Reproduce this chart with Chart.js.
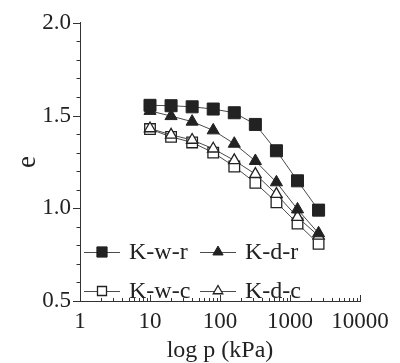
<!DOCTYPE html>
<html>
<head>
<meta charset="utf-8">
<script src="https://cdn.jsdelivr.net/npm/chart.js@4/dist/chart.umd.min.js"></script>
<style>
  html, body { margin: 0; padding: 0; background: #fff; }
  #wrap { width: 400px; height: 363px; }
  canvas { display: block; }
</style>
</head>
<body>
<div id="wrap"><canvas id="chart" width="400" height="363"></canvas></div>
<script>
// Consolidation test: void ratio e against log of vertical pressure p (kPa)
const pressures = [10, 20, 40, 80, 160, 320, 640, 1280, 2560];
const kwr = [1.555, 1.553, 1.547, 1.535, 1.515, 1.452, 1.310, 1.148, 0.990];
const kdr = [1.525, 1.497, 1.467, 1.420, 1.348, 1.255, 1.140, 0.994, 0.865];
const kwc = [1.427, 1.385, 1.355, 1.300, 1.225, 1.137, 1.032, 0.918, 0.808];
const kdc = [1.430, 1.396, 1.368, 1.321, 1.258, 1.184, 1.076, 0.952, 0.851];
const seriesNames = ['K-w-r', 'K-d-r', 'K-w-c', 'K-d-c'];
const xTickValues = [1, 10, 100, 1000, 10000];
const yTickValues = [0.5, 1.0, 1.5, 2.0];

const SERIF = "'Liberation Serif', 'DejaVu Serif', serif";
const INK = '#222222';
const LINE = '#4a4a4a';

function series(label, values, style, filled, radius, order) {
  return {
    label: label,
    data: pressures.map((p, i) => ({ x: p, y: values[i] })),
    borderColor: LINE,
    borderWidth: 1,
    pointStyle: style,
    pointRadius: radius,
    pointHoverRadius: radius,
    pointBackgroundColor: filled ? INK : '#ffffff',
    pointBorderColor: INK,
    pointBorderWidth: filled ? 1 : 1.3,
    tension: 0,
    fill: false,
    order: order
  };
}

// Tick marks: y ticks point outward, x ticks point into the plot
const tickMarks = {
  id: 'tickMarks',
  afterDraw(chart) {
    const ctx = chart.ctx;
    const xs = chart.scales.x, ys = chart.scales.y;
    const area = chart.chartArea;
    ctx.save();
    ctx.strokeStyle = '#333';
    ctx.lineWidth = 1;
    ctx.beginPath();
    for (let k = 0; k <= 15; k++) {
      const v = 0.5 + k * 0.1;
      const y = Math.round(ys.getPixelForValue(v)) + 0.5;
      const len = (k % 5 === 0) ? 7 : 3.5;
      ctx.moveTo(area.left - len, y);
      ctx.lineTo(area.left, y);
    }
    for (let d = 1; d <= 10000; d *= 10) {
      for (let m = 1; m <= 9; m++) {
        const v = m * d;
        if (v > 10000) break;
        const x = Math.round(xs.getPixelForValue(v)) + 0.5;
        const len = (m === 1) ? 6 : 3;
        ctx.moveTo(x, area.bottom);
        ctx.lineTo(x, area.bottom - len);
      }
    }
    ctx.stroke();
    ctx.restore();
  }
};

// Legend in two rows inside the plot, line through each marker
const innerLegend = {
  id: 'innerLegend',
  afterDraw(chart) {
    const ctx = chart.ctx;
    const area = chart.chartArea;
    const rows = [area.bottom - 49, area.bottom - 10];
    const cols = [area.left + 4, area.left + 120];
    ctx.save();
    ctx.font = '24px ' + SERIF;
    ctx.textBaseline = 'middle';
    ctx.textAlign = 'left';
    chart.data.datasets.forEach((ds, i) => {
      const x0 = cols[i % 2];
      const y = rows[Math.floor(i / 2)];
      ctx.strokeStyle = LINE;
      ctx.lineWidth = 1;
      ctx.beginPath();
      ctx.moveTo(x0, y + 0.5);
      ctx.lineTo(x0 + 36, y + 0.5);
      ctx.stroke();
      ctx.fillStyle = ds.pointBackgroundColor;
      ctx.strokeStyle = ds.pointBorderColor;
      ctx.lineWidth = ds.pointBorderWidth;
      Chart.helpers.drawPoint(ctx, {
        pointStyle: ds.pointStyle,
        radius: ds.pointRadius * 0.85,
        rotation: 0,
        borderWidth: ds.pointBorderWidth
      }, x0 + 18, y);
      ctx.fillStyle = INK;
      ctx.fillText(ds.label, x0 + 45, y + 1);
    });
    ctx.restore();
  }
};

new Chart(document.getElementById('chart'), {
  type: 'line',
  data: {
    datasets: [
      series(seriesNames[0], kwr, 'rect', true, 8.5, 0),
      series(seriesNames[1], kdr, 'triangle', true, 7, 1),
      series(seriesNames[2], kwc, 'rect', false, 7.5, 3),
      series(seriesNames[3], kdc, 'triangle', false, 6.5, 2)
    ]
  },
  options: {
    responsive: false,
    animation: false,
    devicePixelRatio: 1,
    layout: { padding: { top: 20, right: 40, left: 0, bottom: 0 } },
    plugins: { legend: { display: false }, tooltip: { enabled: false } },
    scales: {
      x: {
        type: 'logarithmic',
        position: 'bottom',
        min: 1,
        max: 10000,
        afterBuildTicks(scale) { scale.ticks = xTickValues.map(v => ({ value: v })); },
        afterFit(scale) { scale.height = 62; },
        grid: { display: false, drawTicks: false },
        border: { display: true, color: '#333', width: 1 },
        ticks: {
          autoSkip: false,
          maxRotation: 0,
          padding: 7,
          color: INK,
          font: { family: SERIF, size: 23 },
          callback: (v) => String(v)
        },
        title: {
          display: true,
          text: 'log p (kPa)',
          color: INK,
          font: { family: SERIF, size: 24, lineHeight: 1 },
          padding: { top: 0, bottom: 0 }
        }
      },
      y: {
        type: 'linear',
        min: 0.5,
        max: 2.0,
        afterBuildTicks(scale) { scale.ticks = yTickValues.map(v => ({ value: v })); },
        afterFit(scale) { scale.width = 80; },
        grid: { display: false, drawTicks: false },
        border: { display: true, color: '#333', width: 1 },
        ticks: {
          padding: 9,
          color: INK,
          font: { family: SERIF, size: 23 },
          callback: (v) => Number(v).toFixed(1)
        },
        title: {
          display: true,
          text: 'e',
          color: INK,
          font: { family: SERIF, size: 27, lineHeight: 1 },
          padding: { top: 14, bottom: 0 }
        }
      }
    }
  },
  plugins: [tickMarks, innerLegend]
});
</script>
</body>
</html>
